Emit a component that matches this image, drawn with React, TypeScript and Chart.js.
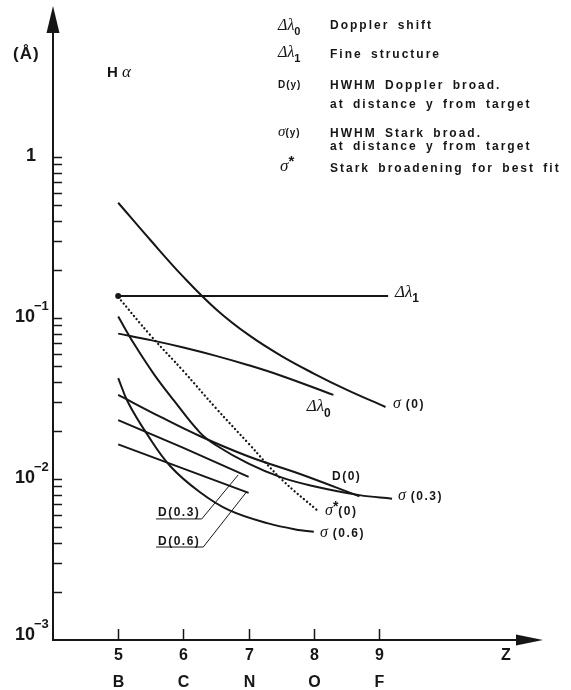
import React, { useEffect, useRef } from 'react';
import { Chart, registerables } from 'chart.js';

Chart.register(...registerables);

// ---------- axes ----------
const Z_MIN = 4;
const Z_MAX = 11.515;
const Y_MIN = 0.001;
const Y_MAX = 8.67;
const zTicks = [5, 6, 7, 8, 9];
const elementLabels = ['B', 'C', 'N', 'O', 'F'];
const decadeValues = [1, 0.1, 0.01, 0.001];
const decadeBase = ['1', '10', '10', '10'];
const decadeExp = ['', '\u22121', '\u22122', '\u22123'];

// ---------- series (Z, wavelength in Å) ----------
const sigma0Z = [5, 5.5, 6, 6.5, 7, 7.5, 8, 8.5, 9.1];
const sigma0Val = [0.52, 0.303, 0.18, 0.1135, 0.0785, 0.0582, 0.0452, 0.0359, 0.028];

const fineZ = [5, 9.14];
const fineVal = [0.137, 0.137];

const shiftZ = [5, 5.5, 6, 6.5, 7, 7.5, 8.3];
const shiftVal = [0.08, 0.0729, 0.0656, 0.0582, 0.0509, 0.0438, 0.0333];

const sigmaStarZ = [5, 5.5, 6, 6.5, 7, 7.5, 8.07];
const sigmaStarVal = [0.135, 0.0776, 0.0468, 0.0275, 0.0166, 0.01, 0.0063];

const sigma03Z = [5, 5.25, 5.55, 5.85, 6.25, 6.5, 7, 7.5, 8, 8.7, 9.2];
const sigma03Val = [0.1021, 0.0684, 0.0447, 0.0309, 0.0195, 0.0162, 0.01245, 0.01023, 0.00902, 0.00794, 0.00755];

const d0Z = [5, 5.65, 6.25, 7, 7.8, 8.7];
const d0Val = [0.0333, 0.0243, 0.0185, 0.0138, 0.0107, 0.0078];

const d03Z = [5, 6, 7];
const d03Val = [0.0232, 0.0156, 0.0103];

const d06Z = [5, 6, 7];
const d06Val = [0.0164, 0.0116, 0.0082];

const sigma06Z = [5, 5.15, 5.45, 5.8, 6.25, 6.7, 7.3, 7.8, 8.0];
const sigma06Val = [0.0424, 0.03, 0.0188, 0.012, 0.0083, 0.0064, 0.0053, 0.0048, 0.0047];

// ---------- styling ----------
const INK = '#161616';
const SANS = '"Liberation Sans", Arial, sans-serif';
const SERIF = '"Liberation Serif", "Times New Roman", serif';

type Run = { t: string; font: string; dy?: number; ls?: number; ws?: number };

function drawRuns(ctx: CanvasRenderingContext2D, runs: Run[], x: number, y: number) {
  let cx = x;
  for (const r of runs) {
    ctx.font = r.font;
    (ctx as any).letterSpacing = (r.ls ?? 0) + 'px';
    (ctx as any).wordSpacing = (r.ws ?? 0) + 'px';
    ctx.fillText(r.t, cx, y + (r.dy ?? 0));
    cx += ctx.measureText(r.t).width;
  }
  (ctx as any).letterSpacing = '0px';
  (ctx as any).wordSpacing = '0px';
  return cx;
}

const greek = (size: number) => `italic ${size}px ${SERIF}`;
const sansB = (size: number) => `bold ${size}px ${SANS}`;

// curve labels: anchor in data coordinates (Z, Å), left/baseline
const curveLabels: { z: number; v: number; runs: Run[] }[] = [
  { z: 9.245, v: 0.135, runs: [{ t: '\u0394\u03bb', font: greek(17) }, { t: '1', font: sansB(12), dy: 5 }] },
  { z: 9.215, v: 0.0276, runs: [{ t: '\u03c3', font: greek(16) }, { t: ' (0)', font: sansB(12), ls: 1.5 }] },
  { z: 7.891, v: 0.0264, runs: [{ t: '\u0394\u03bb', font: greek(17) }, { t: '0', font: sansB(12), dy: 6 }] },
  { z: 8.279, v: 0.00986, runs: [{ t: 'D(0)', font: sansB(12), ls: 1.5 }] },
  { z: 9.291, v: 0.00741, runs: [{ t: '\u03c3', font: greek(16) }, { t: ' (0.3)', font: sansB(12), ls: 1.5 }] },
  { z: 8.172, v: 0.00598, runs: [{ t: '\u03c3', font: greek(16) }, { t: '*', font: sansB(14), dy: -4 }, { t: '(0)', font: sansB(12), ls: 1.5 }] },
  { z: 8.095, v: 0.00439, runs: [{ t: '\u03c3', font: greek(16) }, { t: ' (0.6)', font: sansB(12), ls: 1.5 }] },
];

// underlined labels with leader lines (data coordinates)
const leaderLabels = [
  { text: 'D(0.3)', z: 5.61, v: 0.00585, ulZ0: 5.58, ulZ1: 6.281, ulV: 0.00565, endZ: 6.84, endV: 0.0106 },
  { text: 'D(0.6)', z: 5.61, v: 0.00389, ulZ0: 5.58, ulZ1: 6.305, ulV: 0.00378, endZ: 6.971, endV: 0.00834 },
];

const zip = (xs: number[], ys: number[]) => xs.map((x, i) => ({ x, y: ys[i] }));

const decorPlugin = {
  id: 'decor',
  afterDraw(chart: any) {
    const ctx: CanvasRenderingContext2D = chart.ctx;
    const xs = chart.scales.x;
    const ys = chart.scales.y;
    const { left, right, top, bottom } = chart.chartArea;
    ctx.save();
    ctx.strokeStyle = INK;
    ctx.fillStyle = INK;

    // y axis with arrow
    ctx.lineWidth = 2;
    ctx.beginPath();
    ctx.moveTo(left, bottom + 1);
    ctx.lineTo(left, top + 20);
    ctx.stroke();
    ctx.beginPath();
    ctx.moveTo(left, top);
    ctx.lineTo(left - 6.5, top + 27);
    ctx.lineTo(left + 6.5, top + 27);
    ctx.closePath();
    ctx.fill();

    // x axis with arrow
    ctx.beginPath();
    ctx.moveTo(left - 1, bottom);
    ctx.lineTo(right - 20, bottom);
    ctx.stroke();
    ctx.beginPath();
    ctx.moveTo(right, bottom);
    ctx.lineTo(right - 27, bottom - 5.5);
    ctx.lineTo(right - 27, bottom + 5.5);
    ctx.closePath();
    ctx.fill();

    // y minor/major ticks
    ctx.lineWidth = 1.5;
    for (let e = -3; e <= 0; e++) {
      for (let m = 1; m <= 9; m++) {
        const v = m * Math.pow(10, e);
        if (v <= Y_MIN * 1.01 || v > 1.001) continue;
        const py = Math.round(ys.getPixelForValue(v)) + 0.5;
        ctx.beginPath();
        ctx.moveTo(left, py);
        ctx.lineTo(left + 9, py);
        ctx.stroke();
      }
    }

    // x ticks and labels
    ctx.textAlign = 'center';
    ctx.textBaseline = 'alphabetic';
    zTicks.forEach((z, i) => {
      const px = Math.round(xs.getPixelForValue(z)) + 0.5;
      ctx.beginPath();
      ctx.moveTo(px, bottom);
      ctx.lineTo(px, bottom - 11);
      ctx.stroke();
      ctx.font = sansB(16);
      ctx.fillText(String(z), px, bottom + 20);
      ctx.fillText(elementLabels[i], px, bottom + 47);
    });
    ctx.font = sansB(16);
    ctx.fillText('Z', 506, bottom + 20);

    // y decade labels
    ctx.textAlign = 'left';
    decadeValues.forEach((v, i) => {
      const py = ys.getPixelForValue(v);
      const base = Math.min(py + 4, bottom);
      ctx.font = sansB(18);
      if (decadeExp[i] === '') {
        ctx.textAlign = 'right';
        ctx.fillText(decadeBase[i], 36, base);
        ctx.textAlign = 'left';
      } else {
        ctx.fillText(decadeBase[i], 15, base);
        ctx.font = sansB(13);
        ctx.fillText(decadeExp[i], 34, base - 12);
      }
    });

    // unit and title
    drawRuns(ctx, [{ t: '(\u00c5)', font: sansB(17), ls: 1 }], 13, 59);
    drawRuns(ctx, [{ t: 'H', font: sansB(15) }, { t: ' \u03b1', font: greek(17) }], 107, 77);

    // legend block
    const L1 = 278;
    const L2 = 330;
    const txt = { font: sansB(12), ls: 2, ws: 3 };
    drawRuns(ctx, [{ t: '\u0394\u03bb', font: greek(16) }, { t: '0', font: sansB(11), dy: 5 }], L1, 30);
    drawRuns(ctx, [{ t: 'Doppler shift', ...txt }], L2, 29);
    drawRuns(ctx, [{ t: '\u0394\u03bb', font: greek(16) }, { t: '1', font: sansB(11), dy: 5 }], L1, 57);
    drawRuns(ctx, [{ t: 'Fine structure', ...txt }], L2, 58);
    drawRuns(ctx, [{ t: 'D(y)', font: sansB(10), ls: 1 }], L1, 88);
    drawRuns(ctx, [{ t: 'HWHM Doppler broad.', ...txt }], L2, 88.5);
    drawRuns(ctx, [{ t: 'at distance y from target', ...txt }], L2, 108);
    drawRuns(ctx, [{ t: '\u03c3', font: greek(15) }, { t: '(y)', font: sansB(10), ls: 1 }], L1, 136);
    drawRuns(ctx, [{ t: 'HWHM Stark broad.', ...txt }], L2, 136.5);
    drawRuns(ctx, [{ t: 'at distance y from target', ...txt }], L2, 150);
    drawRuns(ctx, [{ t: '\u03c3', font: greek(17) }, { t: '*', font: sansB(15), dy: -5 }], L1 + 2, 171);
    drawRuns(ctx, [{ t: 'Stark broadening for best fit', ...txt }], L2, 172);

    // curve labels
    for (const lab of curveLabels) {
      drawRuns(ctx, lab.runs, xs.getPixelForValue(lab.z), ys.getPixelForValue(lab.v));
    }

    // leader labels
    ctx.lineWidth = 1;
    for (const lab of leaderLabels) {
      drawRuns(ctx, [{ t: lab.text, font: sansB(12), ls: 1.5 }], xs.getPixelForValue(lab.z), ys.getPixelForValue(lab.v));
      const uy = ys.getPixelForValue(lab.ulV);
      ctx.beginPath();
      ctx.moveTo(xs.getPixelForValue(lab.ulZ0), uy);
      ctx.lineTo(xs.getPixelForValue(lab.ulZ1), uy);
      ctx.lineTo(xs.getPixelForValue(lab.endZ), ys.getPixelForValue(lab.endV));
      ctx.stroke();
    }
    ctx.restore();
  },
};

export default function App() {
  const ref = useRef<HTMLCanvasElement | null>(null);
  useEffect(() => {
    if (!ref.current) return;
    const solid = {
      borderColor: INK,
      borderWidth: 2,
      pointRadius: 0,
      fill: false,
      tension: 0.4,
    };
    const chart = new Chart(ref.current, {
      type: 'line',
      data: {
        datasets: [
          { ...solid, label: '\u03c3(0)', data: zip(sigma0Z, sigma0Val) },
          {
            ...solid,
            label: '\u0394\u03bb1',
            data: zip(fineZ, fineVal),
            tension: 0,
            pointRadius: [3, 0],
            pointBackgroundColor: INK,
            pointBorderWidth: 0,
          },
          { ...solid, label: '\u0394\u03bb0', data: zip(shiftZ, shiftVal) },
          {
            ...solid,
            label: '\u03c3*(0)',
            data: zip(sigmaStarZ, sigmaStarVal),
            borderWidth: 2.3,
            borderDash: [0.1, 4],
            borderCapStyle: 'round',
          },
          { ...solid, label: '\u03c3(0.3)', data: zip(sigma03Z, sigma03Val) },
          { ...solid, label: 'D(0)', data: zip(d0Z, d0Val) },
          { ...solid, label: 'D(0.3)', data: zip(d03Z, d03Val), tension: 0 },
          { ...solid, label: 'D(0.6)', data: zip(d06Z, d06Val), tension: 0 },
          { ...solid, label: '\u03c3(0.6)', data: zip(sigma06Z, sigma06Val) },
        ] as any,
      },
      options: {
        animation: false,
        responsive: false,
        layout: { padding: { left: 53, top: 6, right: 28, bottom: 50 } },
        scales: {
          x: { type: 'linear', min: Z_MIN, max: Z_MAX, display: false },
          y: { type: 'logarithmic', min: Y_MIN, max: Y_MAX, display: false },
        },
        plugins: { legend: { display: false }, tooltip: { enabled: false } },
      },
      plugins: [decorPlugin],
    });
    return () => chart.destroy();
  }, []);
  return (
    <div style={{ position: 'absolute', left: 0, top: 0, width: 571, height: 690, background: '#fff' }}>
      <canvas ref={ref} width={571} height={690} style={{ display: 'block' }} />
    </div>
  );
}
